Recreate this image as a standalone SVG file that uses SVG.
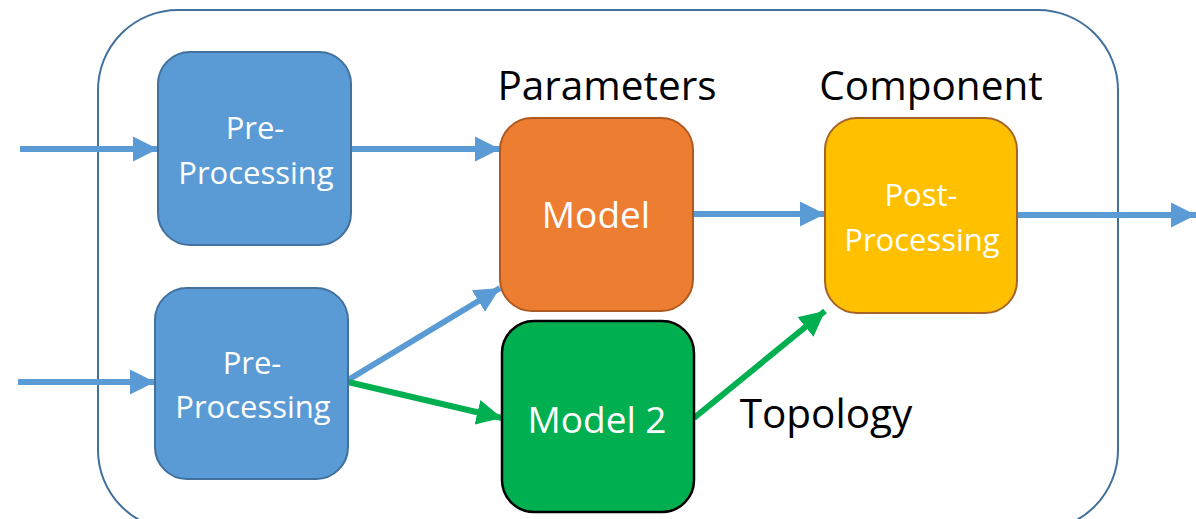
<svg xmlns="http://www.w3.org/2000/svg" width="1196" height="519" viewBox="0 0 1196 519">
<defs>
<style>
.lbl{font-family:"Open Sans","Liberation Sans",sans-serif;fill:#fff;font-size:31px;text-anchor:middle}
.big{font-size:37px}
.cap{font-family:"Open Sans","Liberation Sans",sans-serif;fill:#000;font-size:40.5px;text-anchor:middle}
.ab{stroke:#5B9BD5;stroke-width:6;fill:none}
.ag{stroke:#00B050;stroke-width:6;fill:none}
</style>
<marker id="hb" viewBox="0 0 10 10" refX="10" refY="5" markerWidth="4.2" markerHeight="4.2" markerUnits="strokeWidth" orient="auto"><path d="M0,0L10,5L0,10z" fill="#5B9BD5"/></marker>
<marker id="hg" viewBox="0 0 10 10" refX="10" refY="5" markerWidth="4.2" markerHeight="4.2" markerUnits="strokeWidth" orient="auto"><path d="M0,0L10,5L0,10z" fill="#00B050"/></marker>
</defs>
<rect x="98" y="10" width="1020" height="520" rx="80" fill="#fff" stroke="#41719C" stroke-width="2"/>
<g id="connectors">
<line class="ab" x1="20" y1="149" x2="158" y2="149" marker-end="url(#hb)"/>
<line class="ab" x1="351" y1="149" x2="500" y2="149" marker-end="url(#hb)"/>
<line class="ab" x1="18" y1="382" x2="155" y2="382" marker-end="url(#hb)"/>
<line class="ab" x1="348" y1="380" x2="500" y2="288" marker-end="url(#hb)"/>
<line class="ag" x1="348" y1="382" x2="502" y2="418" marker-end="url(#hg)"/>
<line class="ab" x1="693" y1="214" x2="825" y2="214" marker-end="url(#hb)"/>
<line class="ab" x1="1017" y1="215" x2="1196" y2="215" marker-end="url(#hb)"/>
<line class="ag" x1="694" y1="418" x2="825" y2="311" marker-end="url(#hg)"/>
</g>
<g id="pre1">
<rect x="158" y="52" width="193" height="193" rx="32" fill="#5B9BD5" stroke="#41719C" stroke-width="2"/>
<text class="lbl" x="255" y="139">Pre-</text>
<text class="lbl" x="256" y="184">Processing</text>
</g>
<g id="pre2">
<rect x="155" y="288" width="193" height="191" rx="32" fill="#5B9BD5" stroke="#41719C" stroke-width="2"/>
<text class="lbl" x="252" y="374">Pre-</text>
<text class="lbl" x="253" y="418">Processing</text>
</g>
<g id="model">
<rect x="500" y="118" width="193" height="193" rx="32" fill="#ED7D31" stroke="#AE5A21" stroke-width="2"/>
<text class="lbl big" x="596" y="228">Model</text>
</g>
<g id="model2">
<rect x="502" y="321" width="192" height="191" rx="32" fill="#00B050" stroke="#000" stroke-width="2.5"/>
<text class="lbl big" x="597" y="433">Model 2</text>
</g>
<g id="post">
<rect x="825" y="118" width="192" height="195" rx="32" fill="#FFC000" stroke="#A5642A" stroke-width="2"/>
<text class="lbl" x="921" y="206">Post-</text>
<text class="lbl" x="922" y="251">Processing</text>
</g>
<g id="labels">
<text class="cap" x="607" y="100">Parameters</text>
<text class="cap" x="931" y="100">Component</text>
<text class="cap" x="826" y="428">Topology</text>
</g>
</svg>
